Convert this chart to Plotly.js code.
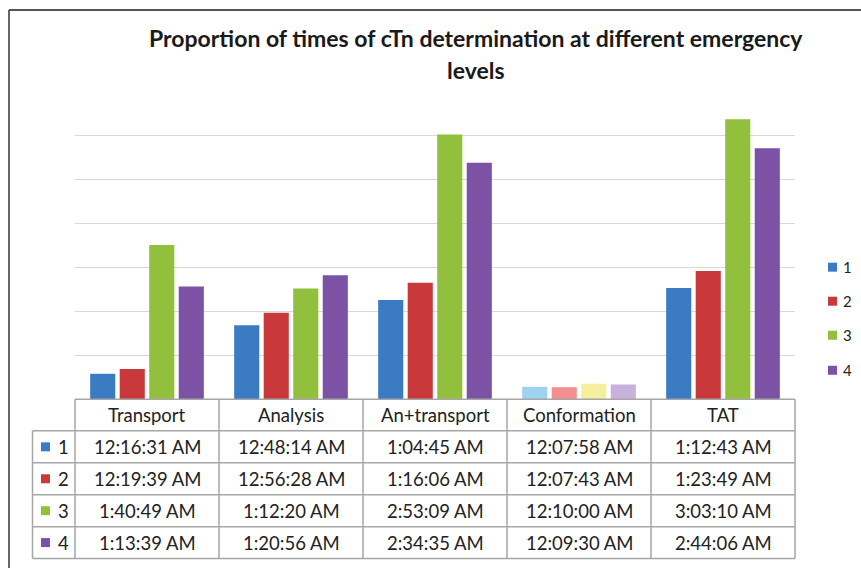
<!DOCTYPE html>
<html>
<head>
<meta charset="utf-8">
<script src="https://cdn.plot.ly/plotly-3.0.1.min.js"></script>
<style>html,body{margin:0;padding:0;background:#fff;overflow:hidden;}#chart{width:861px;height:568px;}</style>
</head>
<body>
<div id="chart"></div>
<script>
// ---- data ----
const categories = ['Transport', 'Analysis', 'An+transport', 'Conformation', 'TAT'];
const seriesNames = ['1', '2', '3', '4'];
const times1 = ['12:16:31 AM', '12:48:14 AM', '1:04:45 AM', '12:07:58 AM', '1:12:43 AM'];
const times2 = ['12:19:39 AM', '12:56:28 AM', '1:16:06 AM', '12:07:43 AM', '1:23:49 AM'];
const times3 = ['1:40:49 AM', '1:12:20 AM', '2:53:09 AM', '12:10:00 AM', '3:03:10 AM'];
const times4 = ['1:13:39 AM', '1:20:56 AM', '2:34:35 AM', '12:09:30 AM', '2:44:06 AM'];
const allTimes = [times1, times2, times3, times4];
const chartTitle1 = 'Proportion of times of cTn determination at different emergency';
const chartTitle2 = 'levels';

// ---- styles ----
const mainColors = ['#3a7bc4', '#c9393b', '#92bf3c', '#7c52a5'];
const fadedColors = ['#9dd3f0', '#f3908f', '#f4f09e', '#c8b1da'];
const fadedCategory = 'Conformation';

function toMinutes(s) {
  const [t, ap] = s.split(' ');
  let [h, m, sec] = t.split(':').map(Number);
  if (h === 12) h = 0;
  if (ap === 'PM') h += 12;
  return h * 60 + m + sec / 60;
}

// pixel -> paper helpers (plot area: x 75..795, y 91..398.7)
const L = 75, R = 795, T = 91, B = 398.7;
const xp = X => (X - L) / (R - L);
const yp = Y => (B - Y) / (B - T);

const traces = seriesNames.map((name, j) => ({
  type: 'bar',
  name: name,
  x: categories,
  y: allTimes[j].map(toMinutes),
  marker: {
    color: categories.map(c => c === fadedCategory ? fadedColors[j] : mainColors[j]),
    line: {width: 0}
  },
  hoverinfo: 'skip',
  showlegend: false
}));

const gridColor = '#a6a6a6';
const shapes = [];
function line(x0, y0, x1, y1, color, w) {
  shapes.push({type: 'line', xref: 'paper', yref: 'paper', x0: xp(x0), y0: yp(y0), x1: xp(x1), y1: yp(y1),
    line: {color: color || gridColor, width: w || 1.5}});
}
// outer frame
line(9, 10, 861, 10, '#555', 2);
line(9, 10, 9, 568, '#333', 1.5);
// table grid
line(75, 399, 795, 399);
const rowYs = [430.5, 462.5, 494.3, 526.3, 558];
rowYs.forEach(y => line(32.5, y, 795, y));
const colXs = [75, 219, 363, 507, 651, 795];
colXs.forEach(x => line(x, 399, x, 558));
line(32.5, 430.5, 32.5, 558);

const annotations = [];
const tfont = {family: 'Lato, "Open Sans", sans-serif', size: 18.5, color: '#222'};
const titleFont = {family: 'Lato, sans-serif', size: 23, color: '#1a1a1a'};
annotations.push({xref: 'paper', yref: 'paper', x: xp(476), y: yp(38), text: '<b>' + chartTitle1 + '</b>', showarrow: false,
  xanchor: 'center', yanchor: 'middle', font: titleFont});
annotations.push({xref: 'paper', yref: 'paper', x: xp(476), y: yp(70), text: '<b>' + chartTitle2 + '</b>', showarrow: false,
  xanchor: 'center', yanchor: 'middle', font: titleFont});
// header row
categories.forEach((c, i) => {
  annotations.push({xref: 'paper', yref: 'paper', x: xp((colXs[i] + colXs[i + 1]) / 2), y: yp(415), text: c,
    showarrow: false, xanchor: 'center', yanchor: 'middle', font: tfont});
});
// data rows with legend keys
seriesNames.forEach((name, j) => {
  const yc = (rowYs[j] + rowYs[j + 1]) / 2;
  shapes.push({type: 'rect', xref: 'paper', yref: 'paper', x0: xp(41), x1: xp(50), y0: yp(yc - 4.5), y1: yp(yc + 4.5),
    fillcolor: mainColors[j], line: {width: 0}});
  annotations.push({xref: 'paper', yref: 'paper', x: xp(56), y: yp(yc), text: name, showarrow: false,
    xanchor: 'left', yanchor: 'middle', font: tfont});
  categories.forEach((c, i) => {
    annotations.push({xref: 'paper', yref: 'paper', x: xp((colXs[i] + colXs[i + 1]) / 2), y: yp(yc), text: allTimes[j][i],
      showarrow: false, xanchor: 'center', yanchor: 'middle', font: tfont});
  });
});
// right-side legend
const legendYs = [267, 301, 335, 370];
seriesNames.forEach((name, j) => {
  const yc = legendYs[j];
  shapes.push({type: 'rect', xref: 'paper', yref: 'paper', x0: xp(828), x1: xp(837), y0: yp(yc - 4.5), y1: yp(yc + 4.5),
    fillcolor: mainColors[j], line: {width: 0}});
  annotations.push({xref: 'paper', yref: 'paper', x: xp(841), y: yp(yc), text: name, showarrow: false,
    xanchor: 'left', yanchor: 'middle', font: {family: 'Lato, sans-serif', size: 15, color: '#222'}});
});

const layout = {
  width: 861, height: 568,
  margin: {l: L, r: 861 - R, t: T, b: 568 - B, autoexpand: false},
  paper_bgcolor: '#fff', plot_bgcolor: '#fff',
  barmode: 'group', bargap: 0.18, bargroupgap: 0.15,
  showlegend: false,
  xaxis: {showticklabels: false, showgrid: false, zeroline: false, showline: false, ticks: ''},
  yaxis: {range: [0, 201.6], tick0: 0, dtick: 28.8, showticklabels: false, showgrid: true,
    gridcolor: '#d9d9d9', gridwidth: 1, zeroline: false, showline: false, ticks: ''},
  shapes: shapes,
  annotations: annotations
};

Plotly.newPlot('chart', traces, layout, {displayModeBar: false, staticPlot: true});
</script>
</body>
</html>
